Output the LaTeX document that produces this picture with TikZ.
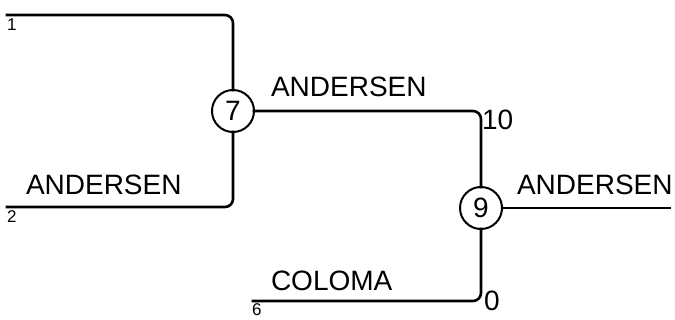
\documentclass[tikz,border=0pt]{standalone}
\usepackage{fontspec}
\setmainfont{Liberation Sans}
\begin{document}
\begin{tikzpicture}[x=1pt, y=-1pt, every node/.style={inner sep=0pt, outer sep=0pt, anchor=base west, font=\fontsize{28}{31}\selectfont}, line join=round, line cap=rect]
	\tikzset{
		merge/.style={draw, circle, line width=2pt, minimum size=42pt, anchor=center},
		branch/.style={line width=2.6pt, rounded corners=8pt},
		tiny/.style={font=\fontsize{17}{19}\selectfont}
	}
	\useasboundingbox (0,0) rectangle (675,320);

	% Knoten
	\node[merge] (n7) at (233, 111) {7};
	\node[merge] (n9) at (481, 208) {9};

	% Blattenden
	\coordinate (leaf1) at (7, 15);
	\coordinate (leaf2) at (7, 207);
	\coordinate (leaf6) at (253, 301);
	\coordinate (root) at (670, 208);

	% Äste
	\draw[branch] (leaf1) -| (n7.north);
	\draw[branch] (leaf2) -| (n7.south);
	\draw[branch] (n7.east) -| (n9.north);
	\draw[branch] (leaf6) -| (n9.south);
	\draw[branch] (n9.east) -- (root);

	% Beschriftungen
	\node[tiny] (l1) at (7, 31) {1};
	\node[tiny] (l2) at (7, 223) {2};
	\node[tiny] (l6) at (252, 316) {6};
	\node (t2) at (26, 195) {ANDERSEN};
	\node (t7) at (271, 97) {ANDERSEN};
	\node (t9) at (517, 195) {ANDERSEN};
	\node (t6) at (271, 291) {COLOMA};
	\node (s10) at (482, 130) {10};
	\node (s0) at (484, 311) {0};

\end{tikzpicture}
\end{document}
